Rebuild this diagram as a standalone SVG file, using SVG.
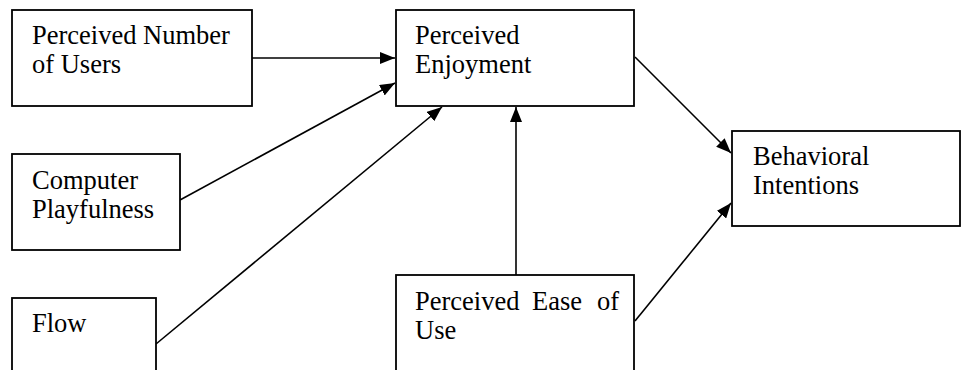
<svg xmlns="http://www.w3.org/2000/svg" width="961" height="370" viewBox="0 0 961 370">
  <style>
    .box { fill: #fff; stroke: #000; stroke-width: 1.8; }
    .lbl { font-family: "Liberation Serif", "Times New Roman", serif; font-size: 26.5px; fill: #000; }
    .edge { fill: none; stroke: #000; stroke-width: 1.6; }
  </style>
  <defs>
    <marker id="arrow" markerUnits="userSpaceOnUse" markerWidth="15" markerHeight="12" refX="15" refY="6" orient="auto">
      <path d="M0,0 L15,6 L0,12 z" fill="#000"/>
    </marker>
  </defs>
  <rect width="961" height="370" fill="#fff"/>

  <g id="connectors">
    <line class="edge" x1="252" y1="58" x2="395" y2="58" marker-end="url(#arrow)"/>
    <line class="edge" x1="180" y1="200" x2="395" y2="83" marker-end="url(#arrow)"/>
    <line class="edge" x1="156" y1="344" x2="442" y2="107" marker-end="url(#arrow)"/>
    <line class="edge" x1="516" y1="275" x2="516" y2="107" marker-end="url(#arrow)"/>
    <line class="edge" x1="635" y1="57" x2="731" y2="153" marker-end="url(#arrow)"/>
    <line class="edge" x1="635" y1="321" x2="731" y2="203" marker-end="url(#arrow)"/>
  </g>

  <g id="node-pnu">
    <rect class="box" x="12" y="10" width="240" height="96"/>
    <text class="lbl" x="32" y="44">Perceived Number</text>
    <text class="lbl" x="32" y="73">of Users</text>
  </g>
  <g id="node-pe">
    <rect class="box" x="396" y="10" width="238" height="96"/>
    <text class="lbl" x="415" y="44">Perceived</text>
    <text class="lbl" x="415" y="73">Enjoyment</text>
  </g>
  <g id="node-cp">
    <rect class="box" x="12" y="154" width="168" height="96"/>
    <text class="lbl" x="32" y="189">Computer</text>
    <text class="lbl" x="32" y="218">Playfulness</text>
  </g>
  <g id="node-flow">
    <rect class="box" x="12" y="298" width="144" height="80"/>
    <text class="lbl" x="32" y="332">Flow</text>
  </g>
  <g id="node-peou">
    <rect class="box" x="396" y="275" width="238" height="103"/>
    <text class="lbl" y="310"><tspan x="415">Perceived</tspan><tspan x="532">Ease</tspan><tspan x="597">of</tspan></text>
    <text class="lbl" x="415" y="339">Use</text>
  </g>
  <g id="node-bi">
    <rect class="box" x="732" y="131" width="228" height="95"/>
    <text class="lbl" x="753" y="165">Behavioral</text>
    <text class="lbl" x="753" y="194">Intentions</text>
  </g>
</svg>
